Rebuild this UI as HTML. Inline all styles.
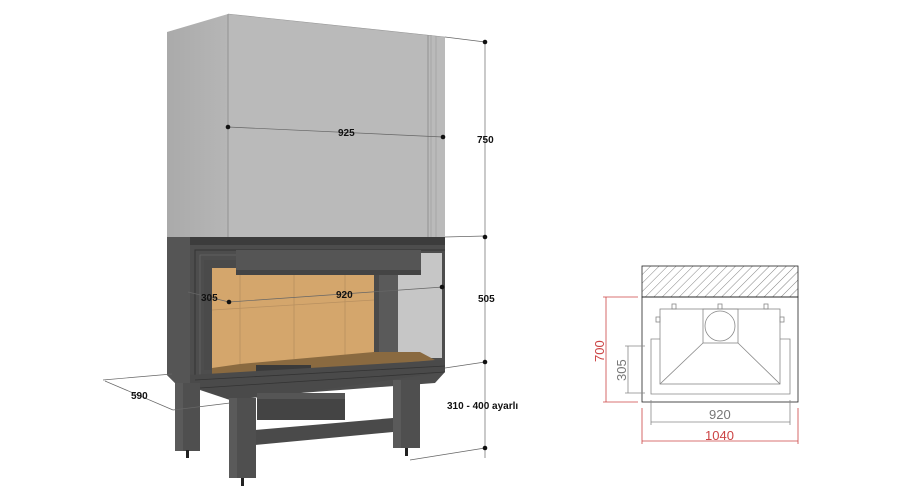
<!DOCTYPE html>
<html><head><meta charset="utf-8"><style>
html,body{margin:0;padding:0;background:#fff;}
svg{display:block;}
text{font-family:"Liberation Sans",Arial,sans-serif;}
</style></head><body>
<svg width="899" height="500" viewBox="0 0 899 500" xmlns="http://www.w3.org/2000/svg">
<defs>
<pattern id="h" width="6" height="6" patternUnits="userSpaceOnUse" patternTransform="rotate(45)">
<line x1="0" y1="0" x2="0" y2="6" stroke="#666" stroke-width="0.8"/>
</pattern>
<linearGradient id="lf" x1="0" x2="1"><stop offset="0" stop-color="#aaaaaa"/><stop offset="1" stop-color="#b6b6b6"/></linearGradient>
</defs>
<!-- hood -->
<polygon points="167,32 228,14 228,240 167,240" fill="url(#lf)"/>
<polygon points="228,14 428,35 445,37 445,238 228,240" fill="#bababa"/>
<line x1="228" y1="14" x2="228" y2="240" stroke="#8a8a8a" stroke-width="0.8"/>
<line x1="428" y1="35" x2="428" y2="238" stroke="#888" stroke-width="0.8"/>
<line x1="431" y1="35" x2="431" y2="238" stroke="#999" stroke-width="0.6"/>
<line x1="436" y1="36" x2="436" y2="238" stroke="#999" stroke-width="0.6"/>
<line x1="228" y1="14" x2="445" y2="37" stroke="#999" stroke-width="0.6"/>
<!-- firebox body -->
<polygon points="167,237 445,237 445,372 435,383 300,393 230,400 200,390 175,383 167,375" fill="#4d4d4d"/>
<polygon points="167,237 190,237 190,385 175,383 167,375" fill="#555"/>
<rect x="190" y="237" width="255" height="8" fill="#3c3c3c"/>
<polyline points="195,388 195,250 445,250" fill="none" stroke="#333" stroke-width="1"/>
<polyline points="200,385 200,255 440,255" fill="none" stroke="#666" stroke-width="0.8"/>
<!-- glass right -->
<rect x="395" y="253" width="47" height="105" fill="#c6c6c6"/>
<rect x="378" y="262" width="20" height="105" fill="#5a5a5a"/>
<rect x="204" y="260" width="175" height="110" fill="#4a4a4a"/>
<!-- refractory -->
<rect x="212" y="268" width="162" height="100" fill="#d4a66c"/>
<line x1="240" y1="268" x2="240" y2="365" stroke="#b89060" stroke-width="0.8"/>
<line x1="294" y1="268" x2="294" y2="362" stroke="#b89060" stroke-width="0.8"/>
<line x1="345" y1="268" x2="345" y2="360" stroke="#b89060" stroke-width="0.8"/>
<line x1="212" y1="310" x2="374" y2="300" stroke="#b89060" stroke-width="0.8"/>
<polygon points="212,368 240,364 374,352 420,352 435,360 230,378 212,378" fill="#8a6a40"/>
<rect x="256" y="365" width="55" height="8" fill="#3a3a3a"/>
<line x1="312" y1="374" x2="378" y2="369" stroke="#bbb" stroke-width="2"/>
<rect x="236" y="250" width="185" height="25" fill="#555"/>
<rect x="236" y="270" width="185" height="5" fill="#444"/>
<!-- bottom band -->
<polygon points="190,375 445,360 445,372 300,393 230,400 190,385" fill="#4a4a4a"/>
<line x1="195" y1="380" x2="445" y2="366" stroke="#333" stroke-width="0.8"/>
<line x1="200" y1="388" x2="445" y2="372" stroke="#333" stroke-width="0.8"/>
<!-- legs -->
<rect x="175" y="383" width="25" height="68" fill="#4f4f4f"/>
<rect x="175" y="383" width="8" height="68" fill="#5a5a5a"/>
<rect x="393" y="380" width="27" height="68" fill="#4f4f4f"/>
<rect x="393" y="380" width="8" height="68" fill="#5a5a5a"/>
<rect x="257" y="393" width="88" height="27" fill="#444"/>
<rect x="257" y="393" width="88" height="6" fill="#555"/>
<polygon points="255,430 393,418 393,432 255,445" fill="#4a4a4a"/>
<rect x="229" y="398" width="27" height="80" fill="#4f4f4f"/>
<rect x="229" y="398" width="8" height="80" fill="#5a5a5a"/>
<rect x="186" y="450" width="3" height="8" fill="#222"/>
<rect x="241" y="478" width="3" height="8" fill="#222"/>
<rect x="405" y="448" width="3" height="8" fill="#222"/>
<!-- dimension lines -->
<g stroke="#666" stroke-width="0.7" fill="none">
<line x1="485" y1="42" x2="485" y2="458"/>
<line x1="445" y1="37" x2="485" y2="42"/>
<line x1="445" y1="237" x2="485" y2="236"/>
<line x1="445" y1="368" x2="485" y2="362"/>
<line x1="410" y1="460" x2="485" y2="448"/>
<line x1="228" y1="127" x2="443" y2="137"/>
<line x1="229" y1="302" x2="443" y2="287"/>
<line x1="188" y1="292" x2="229" y2="302"/>
<line x1="103" y1="380" x2="172" y2="374"/>
<line x1="105" y1="381" x2="173" y2="410"/>
<line x1="173" y1="410" x2="230" y2="403"/>
</g>
<g fill="#111">
<circle cx="485" cy="42" r="2.3"/><circle cx="485" cy="237" r="2.3"/><circle cx="485" cy="362" r="2.3"/><circle cx="485" cy="448" r="2.3"/>
<circle cx="228" cy="127" r="2.3"/><circle cx="443" cy="137" r="2.3"/>
<circle cx="229" cy="302" r="2.3"/><circle cx="442" cy="287" r="2.3"/>
</g>
<g font-size="10" font-weight="bold" fill="#111">
<text x="338" y="136">925</text>
<text x="477" y="143">750</text>
<text x="478" y="302">505</text>
<text x="336" y="298">920</text>
<text x="201" y="301">305</text>
<text x="131" y="399">590</text>
<text x="447" y="409">310 - 400 ayarlı</text>
</g>
<!-- right plan diagram -->
<rect x="642" y="266" width="156" height="31" fill="url(#h)" stroke="#222" stroke-width="0.8"/>
<rect x="642" y="297" width="156" height="105" fill="none" stroke="#222" stroke-width="0.8"/>
<g stroke="#888" stroke-width="0.8" fill="none">
<rect x="660" y="309" width="120" height="75"/>
<rect x="703" y="309" width="35" height="34"/>
<circle cx="720" cy="326" r="15"/>
<line x1="703" y1="343" x2="660" y2="384"/>
<line x1="738" y1="343" x2="780" y2="384"/>
<polyline points="660,339 651,339 651,394 790,394 790,339 780,339"/>
<rect x="672" y="304" width="4" height="5"/><rect x="718" y="304" width="4" height="5"/><rect x="764" y="304" width="4" height="5"/>
<rect x="656" y="317" width="4" height="5"/><rect x="780" y="317" width="4" height="5"/>
<line x1="628" y1="346" x2="628" y2="393"/>
<line x1="625" y1="346" x2="645" y2="346"/><line x1="625" y1="393" x2="645" y2="393"/>
<line x1="651" y1="422" x2="790" y2="422"/>
<line x1="651" y1="400" x2="651" y2="425"/><line x1="790" y1="400" x2="790" y2="425"/>
</g>
<g stroke="#c44" stroke-width="0.8" fill="none">
<line x1="606" y1="297" x2="606" y2="402"/>
<line x1="603" y1="297" x2="638" y2="297"/><line x1="603" y1="402" x2="638" y2="402"/>
<line x1="642" y1="441" x2="798" y2="441"/>
<line x1="642" y1="408" x2="642" y2="444"/><line x1="798" y1="408" x2="798" y2="444"/>
</g>
<text x="0" y="0" font-size="13" fill="#c44" transform="translate(604,362) rotate(-90)">700</text>
<text x="0" y="0" font-size="13" fill="#777" transform="translate(626,381) rotate(-90)">305</text>
<text x="709" y="419" font-size="13" fill="#777">920</text>
<text x="705" y="440" font-size="13" fill="#c44">1040</text>
</svg>
</body></html>
